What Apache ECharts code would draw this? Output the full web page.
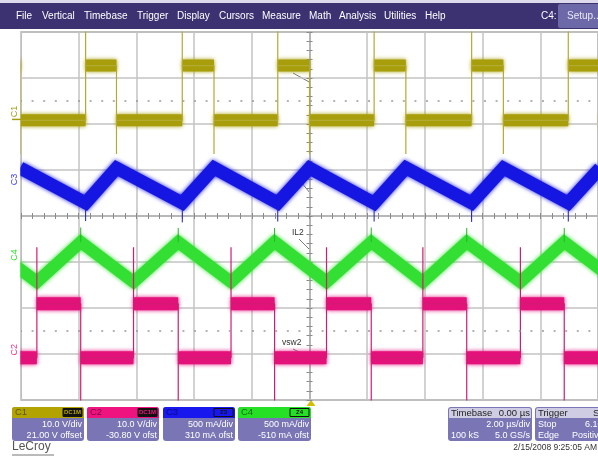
<!DOCTYPE html>
<html><head><meta charset="utf-8">
<script src="https://cdn.jsdelivr.net/npm/echarts@6/dist/echarts.min.js"></script>
<style>html,body{margin:0;padding:0;background:#fff;overflow:hidden}#c{width:598px;height:458px}</style>
</head><body><div id="c"></div>
<script>
const menuItems = ['File','Vertical','Timebase','Trigger','Display','Cursors','Measure','Math','Analysis','Utilities','Help'];
const chNames   = ['C1','C2','C3','C4'];
const chScale   = [10, 10, 500, 500];        // V/div, V/div, mA/div, mA/div
const chOffset  = [21.0, -30.8, 310, -510];  // V, V, mA, mA
const chLine1   = ['10.0 V/div','10.0 V/div','500 mA/div','500 mA/div'];
const chLine2   = ['21.00 V offset','-30.80 V ofst','310 mA ofst','-510 mA ofst'];
const timeMin = -10, timeMax = 10, timeStep = 2;   // µs, 2.00 µs/div

// C1 (vsw1, V)
const c1FallT = [-10.03, -6.69, -3.31, 0.00, 3.34, 6.72, 10.07];
const c1RiseT = [-7.76, -4.41, -1.10, 2.24, 5.62, 8.97];
const c1Low = -0.2, c1High = 11.7, c1RiseSpike = 30, c1FallSpike = -7.5;
// C2 (vsw2, V)
const c2RiseT = [-9.45, -6.10, -2.72, 0.59, 3.93, 7.31];
const c2FallT = [-7.93, -4.55, -1.21, 2.14, 5.45, 8.83];
const c2Low = 0.0, c2High = 11.7, c2RiseSpike = 24, c2FallSpike = -20;
// C3 (IL1, mA) triangle vertices
const c3T = [-10.03, -7.76, -6.69, -4.41, -3.31, -1.10, 0.00, 2.24, 3.34, 5.62, 6.72, 8.97, 10.07];
const c3I = [211, -168, 211, -168, 212, -168, 211, -170, 213, -168, 211, -168, 211];
const c3SpikeT = [-7.76, -4.41, -1.10, 2.24, 5.62, 8.97];
const c3SpikeI = [-365, -380, -370, -370, -375, -370];
// C4 (IL2, mA) triangle vertices
const c4T = [-11.28, -9.45, -7.93, -6.10, -4.55, -2.72, -1.21, 0.59, 2.14, 3.93, 5.45, 7.31, 8.83, 10.66];
const c4I = [226, -206, 227, -207, 226, -207, 228, -206, 227, -207, 226, -206, 227, -206];
const c4SpikeT = [-7.93, -4.55, -1.21, 2.14, 5.45, 8.83];
const c4SpikeI = [385, 380, 380, 385, 380, 380];

// ---------------- helpers ----------------
function squareWave(fallT, riseT, low, high, rSpike, fSpike, t0, t1, startHigh) {
  const ev = fallT.map(t => [t, 'f']).concat(riseT.map(t => [t, 'r'])).sort((a, b) => a[0] - b[0]);
  let lvl = startHigh ? high : low;
  const edge = [[t0, lvl]], band = [[t0, lvl]];
  ev.forEach(([t, k]) => {
    if (k === 'f') { edge.push([t, high], [t, fSpike], [t, low]); band.push([t, high], [t, '-'], [t, low]); lvl = low; }
    else { edge.push([t, low], [t, rSpike], [t, high]); band.push([t, low], [t, '-'], [t, high]); lvl = high; }
  });
  edge.push([t1, lvl]); band.push([t1, lvl]);
  return { edge, band };
}
function spikes(ts, from, to) {
  const d = [];
  ts.forEach((t, i) => { d.push([t, from[i]], [t, to[i]], [t, '-']); });
  return d;
}
function valueAt(ts, vs, t) { const i = ts.indexOf(t); return vs[i]; }

const c1 = squareWave(c1FallT, c1RiseT, c1Low, c1High, c1RiseSpike, c1FallSpike, -10.6, 10.6, true);
const c2 = squareWave(c2FallT, c2RiseT, c2Low, c2High, c2RiseSpike, c2FallSpike, -10.6, 10.6, false);
const c3 = c3T.map((t, i) => [t, c3I[i]]);
const c4 = c4T.map((t, i) => [t, c4I[i]]);
const c3Sp = spikes(c3SpikeT, c3SpikeT.map(t => valueAt(c3T, c3I, t)), c3SpikeI);
const c4Sp = spikes(c4SpikeT, c4SpikeT.map(t => valueAt(c4T, c4I, t)), c4SpikeI);

// ---------------- layout / style ----------------
const FONT = '"Liberation Sans", Arial, sans-serif';
const GX = 21, GY = 32, GW = 580, GH = 368;
const yPix = div => GY + (4 - div) * GH / 8;
const colBand = ['#a89e0c', '#e3127b', '#1616e2', '#33df33'];
const colEdge = ['#b3aa30', '#d21a72', '#1a1ad0', '#22b822'];
const colLabel = ['#a59b10', '#ee2f8c', '#3b3bf0', '#30dd30'];
const colHead = ['#b3a300', '#ef137f', '#1717ee', '#26e026'];
const colHeadTxt = ['#5d5500', '#7d0a44', '#0b0b80', '#0e6e0e'];

const chAxes = chNames.map((n, k) => ({
  type: 'value', show: false, min: -4 * chScale[k] - chOffset[k], max: 4 * chScale[k] - chOffset[k]
}));

function bandSeries(data, k, w) {
  return { type: 'line', xAxisIndex: 0, yAxisIndex: k + 1, data, showSymbol: false, symbol: 'none', silent: true,
    animation: false, clip: true, connectNulls: false,
    lineStyle: { color: colBand[k], width: w, join: 'miter', shadowBlur: 4, shadowColor: colBand[k] } };
}
function thinSeries(data, k, w) {
  return { type: 'line', xAxisIndex: 0, yAxisIndex: k + 1, data, showSymbol: false, symbol: 'none', silent: true,
    animation: false, clip: true, connectNulls: false,
    lineStyle: { color: colEdge[k], width: w } };
}

const crossTick = inside => ({
  type: 'value', min: timeMin, max: timeMax, interval: timeStep,
  axisLine: { show: true, onZero: true, onZeroAxisIndex: 0, lineStyle: { color: '#b5b5b5', width: 1.5 } },
  axisTick: { show: true, inside, length: 3, lineStyle: { color: '#8a8a8a' } },
  minorTick: { show: true, splitNumber: 5, length: 3, lineStyle: { color: '#8a8a8a' } },
  axisLabel: { show: false }, splitLine: { show: false }
});
const crossTickY = inside => ({
  type: 'value', min: -4, max: 4, interval: 1,
  axisLine: { show: true, onZero: true, onZeroAxisIndex: 0, lineStyle: { color: '#b5b5b5', width: 1.5 } },
  axisTick: { show: true, inside, length: 3, lineStyle: { color: '#8a8a8a' } },
  minorTick: { show: true, splitNumber: 5, length: 3, lineStyle: { color: '#8a8a8a' } },
  axisLabel: { show: false }, splitLine: { show: false }
});

// ---------------- graphics (screen furniture) ----------------
const g = [];
// white margin left of the graticule (hides thick-trace overhang)
g.push({ type: 'rect', z: 100, shape: { x: 0, y: GY - 2, width: GX - 0.8, height: GH + 4 }, style: { fill: '#ffffff' } });
g.push({ type: 'rect', shape: { x: 0, y: 0, width: 598, height: 3 }, style: { fill: '#dcdaec' } });
g.push({ type: 'rect', shape: { x: 0, y: 3, width: 598, height: 26 }, style: { fill: '#3c3272' } });
const menuX = [16, 42, 84, 137, 177, 219, 262, 309, 339, 384, 425];
menuItems.forEach((m, i) => g.push({ type: 'text', x: menuX[i], y: 16,
  style: { text: m, fill: '#ffffff', font: '10px ' + FONT, verticalAlign: 'middle' } }));
g.push({ type: 'text', x: 541, y: 16, style: { text: 'C4:', fill: '#ffffff', font: '10px ' + FONT, verticalAlign: 'middle' } });
g.push({ type: 'rect', shape: { x: 558, y: 4, width: 46, height: 24, r: 2 }, style: { fill: '#6d68a8' } });
g.push({ type: 'text', x: 567, y: 16, style: { text: 'Setup...', fill: '#e8e8f6', font: '10px ' + FONT, verticalAlign: 'middle' } });

// trace zero markers + labels on the left
chNames.forEach((n, k) => {
  const z = chOffset[k] / chScale[k];
  g.push({ type: 'text', z: 101, x: 15, y: yPix(z) - 8, rotation: Math.PI / 2,
    style: { text: n, fill: colLabel[k], font: '9px ' + FONT, align: 'center', verticalAlign: 'middle' } });
});
g.push({ type: 'line', z: 101, shape: { x1: 12, y1: yPix(chOffset[0] / chScale[0]), x2: 21, y2: yPix(chOffset[0] / chScale[0]) },
  style: { stroke: '#a59b10', lineWidth: 1.5 } });

// annotations
const ann = [['vsw1', 282, 67, 293, 73, 311, 83], ['IL2', 292, 233, 299, 239, 311, 251], ['vsw2', 282, 343, 293, 349, 311, 358]];
ann.forEach(a => {
  g.push({ type: 'text', x: a[1], y: a[2], style: { text: a[0], fill: '#333', font: '8.5px ' + FONT, verticalAlign: 'middle' } });
  g.push({ type: 'line', shape: { x1: a[3], y1: a[4], x2: a[5], y2: a[6] }, style: { stroke: '#555', lineWidth: 0.8 } });
});
g.push({ type: 'line', shape: { x1: 297, y1: 177, x2: 310, y2: 193 }, style: { stroke: '#555', lineWidth: 0.8 } });

// trigger position marker
g.push({ type: 'polygon', shape: { points: [[306.5, 406], [315.5, 406], [311, 400]] }, style: { fill: '#d2bf00' } });

// channel boxes
const boxX = [12, 87, 163, 238], boxW = [72, 72, 72, 73];
const BY = 407, BH = 34, HH = 11;
chNames.forEach((n, k) => {
  const x = boxX[k], w = boxW[k];
  g.push({ type: 'rect', shape: { x, y: BY, width: w, height: BH, r: 3 }, style: { fill: '#7a76b6' } });
  g.push({ type: 'rect', shape: { x, y: BY, width: w, height: HH, r: [3, 3, 0, 0] }, style: { fill: colHead[k] } });
  g.push({ type: 'text', x: x + 3, y: BY + 5.5, style: { text: n, fill: colHeadTxt[k], font: '9.5px ' + FONT, verticalAlign: 'middle' } });
  g.push({ type: 'rect', shape: { x: x + w - 21, y: BY + 1.5, width: 19, height: 8 }, style: { fill: k < 2 ? '#111' : colHead[k], stroke: '#111', lineWidth: 1 } });
  g.push({ type: 'text', x: x + w - 11.5, y: BY + 5.5, style: { text: k < 2 ? 'DC1M' : 'Z' + (k + 1), fill: k < 2 ? colHead[k] : '#111', font: 'bold 6px ' + FONT, align: 'center', verticalAlign: 'middle' } });
  g.push({ type: 'text', x: x + w - 2, y: BY + 17.5, style: { text: chLine1[k], fill: '#fff', font: '9px ' + FONT, align: 'right', verticalAlign: 'middle' } });
  g.push({ type: 'text', x: x + w - 2, y: BY + 28.5, style: { text: chLine2[k], fill: '#fff', font: '9px ' + FONT, align: 'right', verticalAlign: 'middle' } });
});

// timebase / trigger boxes
function infoBox(x, w, head, headR, r1L, r1R, r2L, r2R) {
  g.push({ type: 'rect', shape: { x, y: BY, width: w, height: BH, r: 3 }, style: { fill: '#7a76b6' } });
  g.push({ type: 'rect', shape: { x: x + 1, y: BY + 1, width: w - 2, height: HH - 1, r: [2, 2, 0, 0] }, style: { fill: '#cfcde4' } });
  g.push({ type: 'text', x: x + 3, y: BY + 6, style: { text: head, fill: '#222', font: '9.5px ' + FONT, verticalAlign: 'middle' } });
  if (headR) g.push({ type: 'text', x: headR[1], y: BY + 6, style: { text: headR[0], fill: '#222', font: '9.5px ' + FONT, align: headR[2], verticalAlign: 'middle' } });
  [[r1L, r1R, 17.5], [r2L, r2R, 28.5]].forEach(([L, R, dy]) => {
    if (L) g.push({ type: 'text', x: x + 3, y: BY + dy, style: { text: L, fill: '#fff', font: '9px ' + FONT, verticalAlign: 'middle' } });
    if (R) g.push({ type: 'text', x: R[1], y: BY + dy, style: { text: R[0], fill: '#fff', font: '9px ' + FONT, align: R[2], verticalAlign: 'middle' } });
  });
}
infoBox(448, 84, 'Timebase', ['0.00 µs', 530, 'right'], null, ['2.00 µs/div', 530, 'right'], '100 kS', ['5.0 GS/s', 530, 'right']);
infoBox(535, 75, 'Trigger', ['SC1', 593, 'left'], 'Stop', ['6.10 V', 585, 'left'], 'Edge', ['Positive', 572, 'left']);

g.push({ type: 'text', x: 597, y: 448, style: { text: '2/15/2008 9:25:05 AM', fill: '#333', font: '8.5px ' + FONT, align: 'right', verticalAlign: 'middle' } });
g.push({ type: 'text', x: 12, y: 447, style: { text: 'LeCroy', fill: '#555', font: '12px ' + FONT, verticalAlign: 'middle' } });
g.push({ type: 'line', shape: { x1: 12, y1: 455, x2: 54, y2: 455 }, style: { stroke: '#777', lineWidth: 1 } });

// ---------------- chart ----------------
const chart = echarts.init(document.getElementById('c'));
chart.setOption({
  backgroundColor: '#ffffff',
  animation: false,
  grid: { left: GX, top: GY, width: GW, height: GH, show: true, borderColor: '#9a9a9a', borderWidth: 1.5, backgroundColor: '#fff' },
  xAxis: [
    { type: 'value', min: timeMin, max: timeMax, interval: timeStep,
      axisLine: { show: false }, axisTick: { show: false }, axisLabel: { show: false },
      splitLine: { show: true, lineStyle: { color: '#c3c3c3', width: 1.5 } } },
    crossTick(true), crossTick(false)
  ],
  yAxis: [
    { type: 'value', min: -4, max: 4, interval: 1,
      axisLine: { show: false }, axisTick: { show: false }, axisLabel: { show: false },
      splitLine: { show: true, lineStyle: { color: '#c3c3c3', width: 1.5 } } }
  ].concat(chAxes).concat([crossTickY(true), crossTickY(false)]),
  graphic: g,
  series: [
    { type: 'line', xAxisIndex: 0, yAxisIndex: 0, data: [[timeMin, 0]], showSymbol: false, symbol: 'none', silent: true,
      markLine: { silent: true, symbol: 'none', label: { show: false }, animation: false,
        lineStyle: { color: '#9a9a9a', width: 1.5, type: [2, 9.6], dashOffset: 1 },
        data: [{ yAxis: 2.5 }, { yAxis: -2.5 }] } },
    bandSeries(c4, 3, 12),
    thinSeries(c4Sp, 3, 1),
    bandSeries(c3, 2, 13),
    thinSeries(c3Sp, 2, 1),
    bandSeries(c2.band, 1, 13),
    thinSeries(c2.edge, 1, 1.2),
    bandSeries(c1.band, 0, 12),
    thinSeries(c1.edge, 0, 1.2)
  ]
});
</script></body></html>
